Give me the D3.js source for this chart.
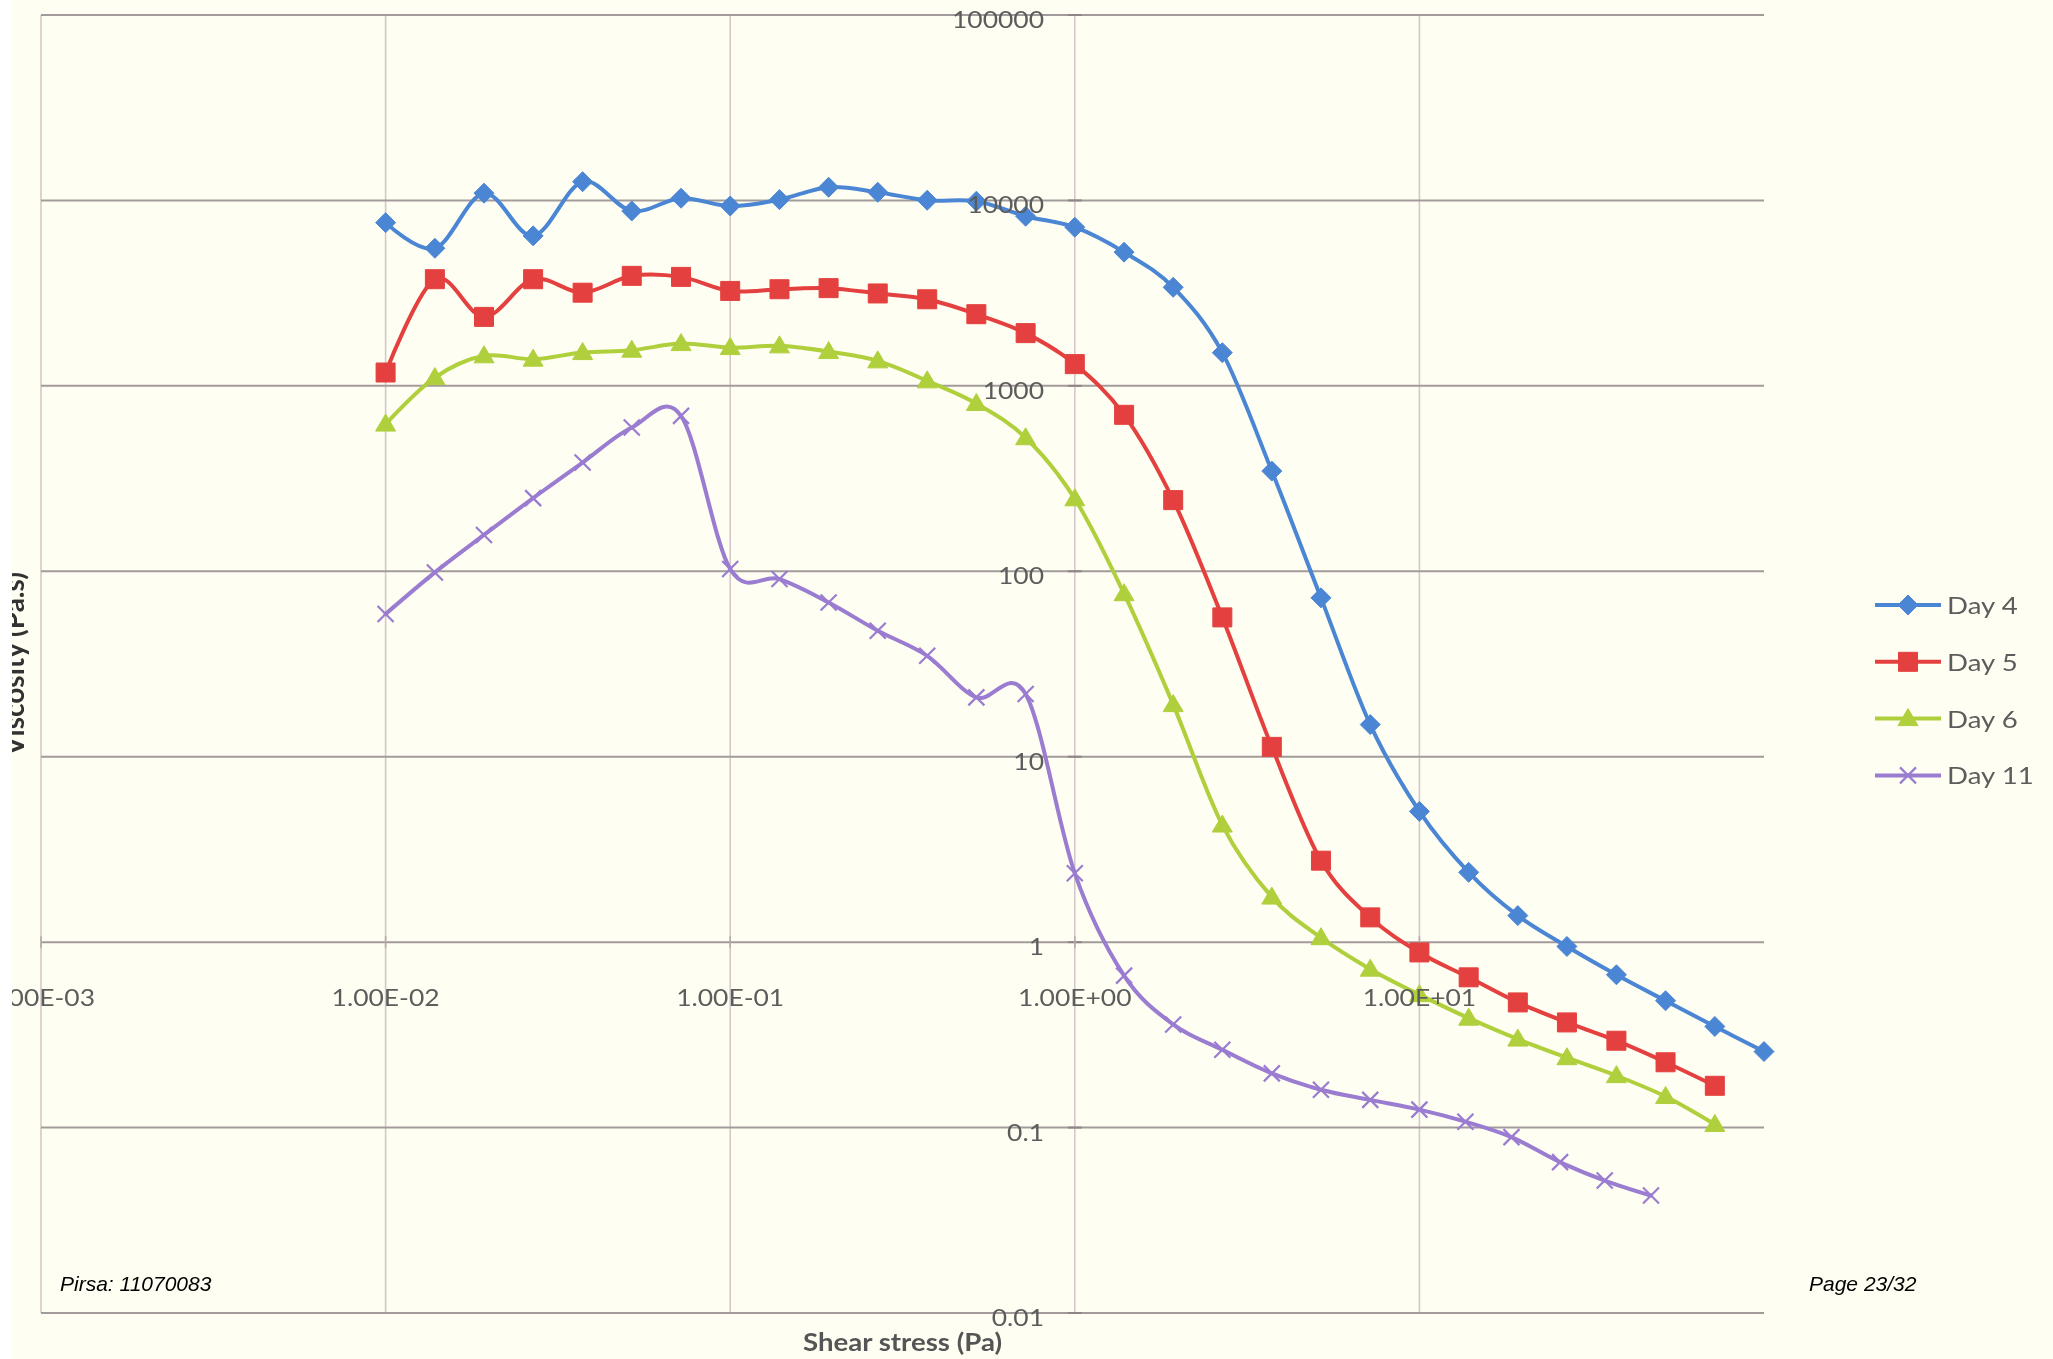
<!DOCTYPE html>
<html><head><meta charset="utf-8">
<script src="https://cdn.jsdelivr.net/npm/d3@7"></script>
<style>
html,body{margin:0;padding:0;background:#fefef2;}
svg{display:block;}
</style></head>
<body>
<svg id="chart" width="2053" height="1359"></svg>
<script>
// ---- data ----
const stress = [0.01, 0.0139, 0.0193, 0.0268, 0.0373, 0.0518, 0.072, 0.1, 0.139, 0.193, 0.268, 0.373, 0.518, 0.72, 1.0, 1.39, 1.93, 2.68, 3.73, 5.18, 7.2, 10, 13.9, 19.3, 26.8, 37.3, 51.8, 72, 100];
const stressDay11 = [0.01, 0.0139, 0.0193, 0.0268, 0.0373, 0.0518, 0.072, 0.1, 0.139, 0.193, 0.268, 0.373, 0.518, 0.72, 1.0, 1.39, 1.93, 2.68, 3.73, 5.18, 7.2, 10, 13.6, 18.5, 25.6, 34.5, 47.0];
const day4 = [7590, 5520, 10940, 6440, 12620, 8770, 10280, 9330, 10100, 11780, 11070, 10020, 9900, 8220, 7170, 5260, 3400, 1510, 347, 71.9, 14.9, 5.07, 2.38, 1.39, 0.948, 0.667, 0.483, 0.351, 0.257];
const day5 = [1180, 3760, 2355, 3760, 3180, 3920, 3870, 3250, 3320, 3365, 3150, 2930, 2435, 1925, 1310, 698, 242, 56.4, 11.3, 2.75, 1.36, 0.88, 0.646, 0.473, 0.369, 0.294, 0.225, 0.168];
const day6 = [622, 1108, 1452, 1393, 1512, 1557, 1690, 1608, 1643, 1531, 1364, 1064, 803, 525, 246, 75.7, 19.1, 4.28, 1.75, 1.057, 0.715, 0.521, 0.389, 0.300, 0.238, 0.1905, 0.147, 0.104];
const day11 = [58.8, 98.6, 157, 248, 386, 596, 689, 102.8, 90.8, 67.9, 47.8, 35.0, 20.9, 21.8, 2.35, 0.66, 0.36, 0.263, 0.196, 0.160, 0.141, 0.125, 0.1076, 0.0888, 0.0651, 0.0518, 0.0430];
const seriesNames = ["Day 4", "Day 5", "Day 6", "Day 11"];
const xTickValues = [0.001, 0.01, 0.1, 1, 10];
const xTickLabels = ["1.00E-03", "1.00E-02", "1.00E-01", "1.00E+00", "1.00E+01"];
const yTickValues = [0.01, 0.1, 1, 10, 100, 1000, 10000, 100000];
const yTickLabels = ["0.01", "0.1", "1", "10", "100", "1000", "10000", "100000"];
const xTitle = "Shear stress (Pa)";
const yTitle = "Viscosity (Pa.s)";

// ---- styles ----
const colors = ["#4c86d4", "#e4403f", "#b0cf3c", "#9a7bd0"];
const markers = ["diamond", "square", "triangle", "cross"];
const bg = "#fefef2";
const textColor = "#5c5c5c";
const FONT = "Lato, 'Open Sans', sans-serif";
const SX = 1.15;

const svg = d3.select("#chart");
svg.append("defs").append("filter").attr("id", "soft")
  .attr("x", "-5%").attr("y", "-5%").attr("width", "110%").attr("height", "110%")
  .append("feGaussianBlur").attr("stdDeviation", 0.6);
svg.append("rect").attr("width", 2053).attr("height", 1359).attr("fill", bg);
const root = svg.append("g").attr("filter", "url(#soft)");

const x = d3.scaleLog().domain([0.001, 100]).range([41, 1764]);
const y = d3.scaleLog().domain([0.01, 100000]).range([1313, 15]);

const series = [
  {name: seriesNames[0], xs: stress, ys: day4},
  {name: seriesNames[1], xs: stress.slice(0, day5.length), ys: day5},
  {name: seriesNames[2], xs: stress.slice(0, day6.length), ys: day6},
  {name: seriesNames[3], xs: stressDay11, ys: day11}
].map((s, i) => ({...s, color: colors[i], marker: markers[i], pts: s.ys.map((v, j) => [s.xs[j], v])}));

// ---- grid ----
const grid = root.append("g");
grid.selectAll("line.v").data(xTickValues).join("line")
  .attr("x1", d => x(d)).attr("x2", d => x(d))
  .attr("y1", y(100000)).attr("y2", y(0.01))
  .attr("stroke", "#d6c8ca").attr("stroke-width", 1.6);
grid.selectAll("line.h").data(yTickValues).join("line")
  .attr("x1", x(0.001)).attr("x2", x(100))
  .attr("y1", d => y(d)).attr("y2", d => y(d))
  .attr("stroke", "#a39b9b").attr("stroke-width", 2);
grid.selectAll("line.yt").data(yTickValues).join("line")
  .attr("x1", x(1) - 7).attr("x2", x(1) + 7)
  .attr("y1", d => y(d)).attr("y2", d => y(d))
  .attr("stroke", "#8f8787").attr("stroke-width", 2);
grid.selectAll("line.xt").data(xTickValues).join("line")
  .attr("x1", d => x(d)).attr("x2", d => x(d))
  .attr("y1", y(1) - 6).attr("y2", y(1) + 6)
  .attr("stroke", "#b8aaac").attr("stroke-width", 1.6);

// ---- series ----
const line = d3.line().x(d => x(d[0])).y(d => y(d[1])).curve(d3.curveCardinal.tension(0));

function markerPath(type) {
  if (type === "diamond") return "M0,-10L10,0L0,10L-10,0Z";
  if (type === "square") return "M-9.5,-9.5H9.5V9.5H-9.5Z";
  if (type === "triangle") return "M0,-10L10,7L-10,7Z";
  return "M-8,-8L8,8M-8,8L8,-8";
}

const plot = root.append("g");
series.forEach(s => {
  plot.append("path").datum(s.pts).attr("d", line)
    .attr("fill", "none").attr("stroke", s.color).attr("stroke-width", 4)
    .attr("stroke-linejoin", "round").attr("stroke-linecap", "round");
});
series.forEach(s => {
  plot.append("g").selectAll("path").data(s.pts).join("path")
    .attr("transform", d => `translate(${x(d[0])},${y(d[1])})`)
    .attr("d", markerPath(s.marker))
    .attr("fill", s.marker === "cross" ? "none" : s.color)
    .attr("stroke", s.color)
    .attr("stroke-width", s.marker === "cross" ? 2.2 : 1);
});

// ---- tick labels ----
function stretchedText(g, px, py, str, anchor, size, weight, fill) {
  return g.append("text")
    .attr("transform", `translate(${px},${py}) scale(${SX},1)`)
    .attr("text-anchor", anchor)
    .attr("font-family", FONT).attr("font-size", size).attr("font-weight", weight || "normal")
    .attr("fill", fill || textColor)
    .text(str);
}
const labels = root.append("g");
yTickValues.forEach((v, i) => {
  stretchedText(labels, 1044, y(v) + 13, yTickLabels[i], "end", 23);
});
xTickValues.forEach((v, i) => {
  stretchedText(labels, x(v), y(1) + 64, xTickLabels[i], "middle", 23);
});

// axis titles
stretchedText(labels, (x(0.001) + x(100)) / 2, 1351, xTitle, "middle", 24, "bold", "#555");
labels.append("text")
  .attr("transform", `translate(24,${664}) rotate(-90)`)
  .attr("text-anchor", "middle")
  .attr("font-family", FONT).attr("font-size", 28).attr("font-weight", "bold")
  .attr("fill", "#333").text(yTitle);

// ---- legend ----
const legend = root.append("g");
series.forEach((s, i) => {
  const ly = 605 + i * 56.8;
  legend.append("line").attr("x1", 1875).attr("x2", 1941).attr("y1", ly).attr("y2", ly)
    .attr("stroke", s.color).attr("stroke-width", 4);
  legend.append("path").attr("transform", `translate(1908,${ly})`)
    .attr("d", markerPath(s.marker))
    .attr("fill", s.marker === "cross" ? "none" : s.color)
    .attr("stroke", s.color).attr("stroke-width", s.marker === "cross" ? 2.2 : 1);
  stretchedText(legend, 1947, ly + 9, s.name, "start", 24);
});

// white strip at the left edge of the frame
svg.append("rect").attr("x", 0).attr("y", 0).attr("width", 12).attr("height", 1359).attr("fill", "#ffffff");

// ---- slide footer ----
svg.append("text").attr("x", 60).attr("y", 1291)
  .attr("font-family", "'Liberation Sans', Arial, sans-serif").attr("font-style", "italic")
  .attr("font-size", 21).attr("fill", "#000").text("Pirsa: 11070083");
svg.append("text").attr("x", 1809).attr("y", 1291)
  .attr("font-family", "'Liberation Sans', Arial, sans-serif").attr("font-style", "italic")
  .attr("font-size", 21).attr("fill", "#000").text("Page 23/32");
</script>
</body></html>
